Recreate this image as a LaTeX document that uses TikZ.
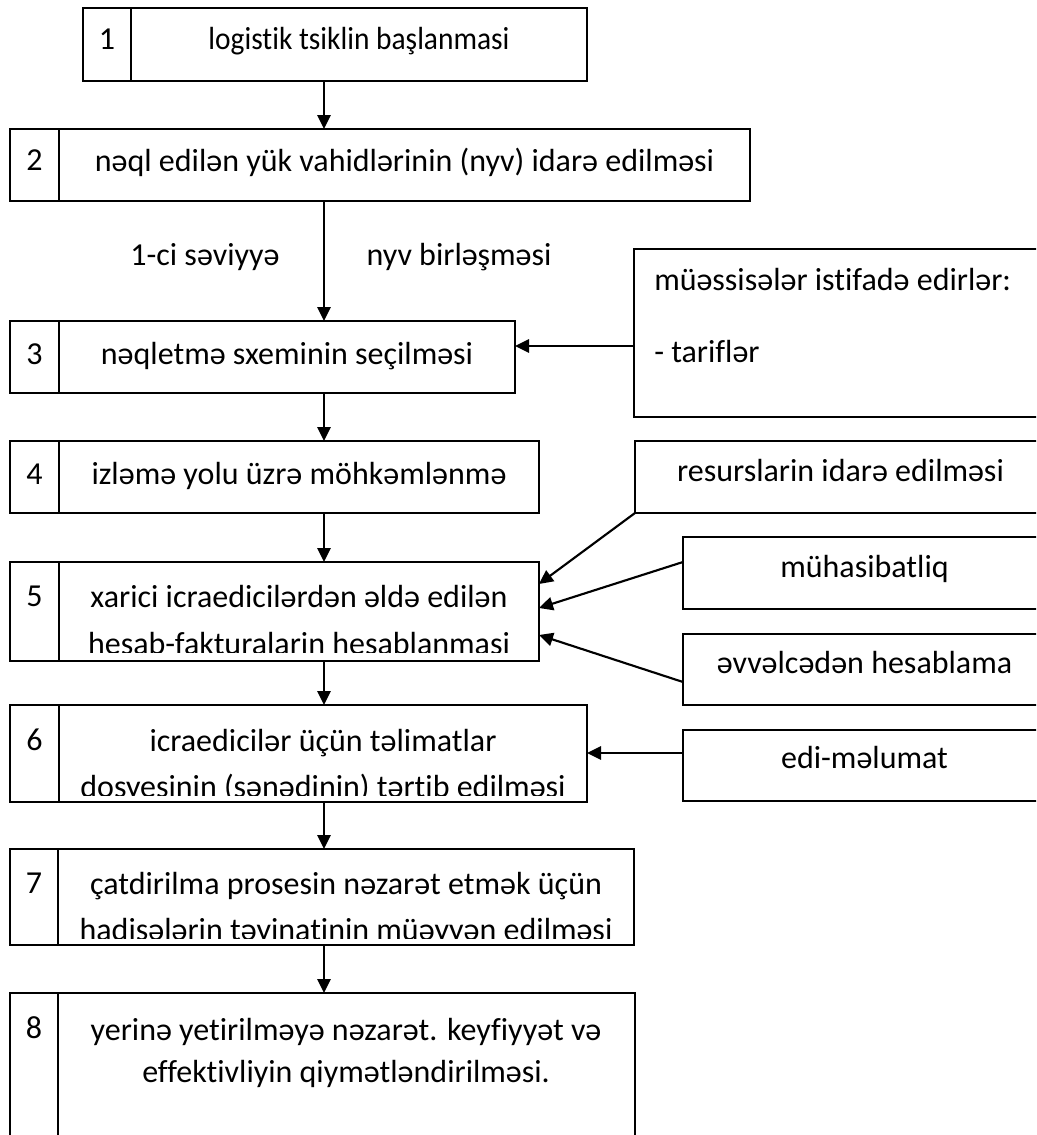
\documentclass[tikz,border=0pt]{standalone}
\usepackage{fontspec}
\setmainfont{Carlito}[Ligatures={NoCommon,NoContextual}]
\usetikzlibrary{arrows.meta}

% main step box: name, left, top, right, bottom, x of the number divider
\newcommand\flowbox[6]{%
  \node[frame, minimum width={(#4-#2)*0.75pt}, minimum height={(#5-#3)*0.75pt}] (#1) at (#2,#3) {};
  \draw[divider] (#6,#3) -- (#6,#5);}
% side box without divider: name, left, top, right, bottom
\newcommand\sidebox[5]{%
  \node[frame, minimum width={(#4-#2)*0.75pt}, minimum height={(#5-#3)*0.75pt}] (#1) at (#2,#3) {};}

\begin{document}
\begin{tikzpicture}[x=0.75pt,y=-0.75pt,
  frame/.style={draw=black, line width=1.9pt, rectangle, inner sep=0pt, outer sep=0pt, anchor=north west},
  divider/.style={line width=1.9pt},
  link/.style={line width=1.6pt, -{Triangle[length=10.5pt,width=10pt]}},
  txt/.style={font=\fontsize{24}{30}\selectfont, inner sep=0pt, anchor=base},
  txtleft/.style={txt, anchor=base west}
]
\clip (0,0) rectangle (1036,1135);
\fill[white] (0,0) rectangle (1036,1135);

% vertical spine of the main flow
\coordinate (spine) at (324,0);

% ---- main chain ----
\flowbox{b1}{83}{8}{587}{81}{131}
\node[txt] (n1) at (107,49) {1};
\node[txt] (t1) at (359,49) {\scalebox{0.92}[1]{logistik tsiklin başlanmasi}};

\flowbox{b2}{10}{129}{750}{201}{59}
\node[txt] (n2) at (34.5,170) {2};
\node[txt] (t2) at (404.5,171) {nəql edilən yük vahidlərinin (nyv) idarə edilməsi};

\node[txt] (l1) at (205,265) {1-ci səviyyə};
\node[txt] (l2) at (459,265) {nyv birləşməsi};

\flowbox{b3}{10}{321}{515}{393}{59}
\node[txt] (n3) at (34.5,364) {3};
\node[txt] (t3) at (287,364) {nəqletmə sxeminin seçilməsi};

\flowbox{b4}{10}{441}{539}{513}{59}
\node[txt] (n4) at (34.5,484) {4};
\node[txt] (t4) at (299,484) {izləmə yolu üzrə möhkəmlənmə};

\flowbox{b5}{10}{562}{539}{661}{59}
\node[txt] (n5) at (34.5,606) {5};
\begin{scope}
  \clip (59,562) rectangle (539,652);
  \node[txt] (t5a) at (299,607) {xarici icraedicilərdən əldə edilən};
  \node[txt] (t5b) at (299,654) {hesab-fakturalarin hesablanmasi};
\end{scope}

\flowbox{b6}{10}{705}{587}{802}{59}
\node[txt] (n6) at (34.5,750) {6};
\begin{scope}
  \clip (59,705) rectangle (587,795);
  \node[txt] (t6a) at (323,751) {icraedicilər üçün təlimatlar};
  \node[txt] (t6b) at (323,797) {dosyesinin (sənədinin) tərtib edilməsi};
\end{scope}

\flowbox{b7}{10}{849}{634}{945}{58}
\node[txt] (n7) at (34,893) {7};
\begin{scope}
  \clip (58,849) rectangle (634,938);
  \node[txt] (t7a) at (346,894) {çatdirilma prosesin nəzarət etmək üçün};
  \node[txt] (t7b) at (346,940) {hadisələrin təyinatinin müəyyən edilməsi};
\end{scope}

\flowbox{b8}{10}{993}{635}{1160}{58}
\node[txt] (n8) at (34,1038) {8};
\node[txt] (t8a) at (346,1040) {yerinə yetirilməyə nəzarət. keyfiyyət və};
\node[txt] (t8b) at (346,1082) {effektivliyin qiymətləndirilməsi.};

% ---- side boxes ----
\sidebox{sA}{634}{249}{1046}{417}
\node[txtleft] (tA1) at (654,290) {müəssisələr istifadə edirlər:};
\node[txtleft] (tA2) at (654,362) {- tariflər};

\sidebox{sB}{635}{441}{1046}{513}
\node[txt] (tB) at (840.5,481) {resurslarin idarə edilməsi};

\sidebox{sC}{683}{537}{1046}{609}
\node[txt] (tC) at (864.5,577) {mühasibatliq};

\sidebox{sD}{683}{634}{1046}{705}
\node[txt] (tD) at (864.5,673) {əvvəlcədən hesablama};

\sidebox{sE}{683}{730}{1046}{801}
\node[txt] (tE) at (864.5,768) {edi-məlumat};

% ---- connectors ----
\coordinate (y346) at (0,346);
\coordinate (y562) at (0,562);
\coordinate (y584) at (0,584);
\coordinate (y608) at (0,608);
\coordinate (y635) at (0,635);
\coordinate (y682) at (0,682);
\coordinate (y753) at (0,753);

\draw[link] (b1.south -| spine) -- (b2.north -| spine);
\draw[link] (b2.south -| spine) -- (b3.north -| spine);
\draw[link] (b3.south -| spine) -- (b4.north -| spine);
\draw[link] (b4.south -| spine) -- (b5.north -| spine);
\draw[link] (b5.south -| spine) -- (b6.north -| spine);
\draw[link] (b6.south -| spine) -- (b7.north -| spine);
\draw[link] (b7.south -| spine) -- (b8.north -| spine);

\draw[link] (sA.west |- y346) -- (b3.east |- y346);
\draw[link] (sB.south west) -- (b5.east |- y584);
\draw[link] (sC.west |- y562) -- (b5.east |- y608);
\draw[link] (sD.west |- y682) -- (b5.east |- y635);
\draw[link] (sE.west |- y753) -- (b6.east |- y753);
\end{tikzpicture}
\end{document}
